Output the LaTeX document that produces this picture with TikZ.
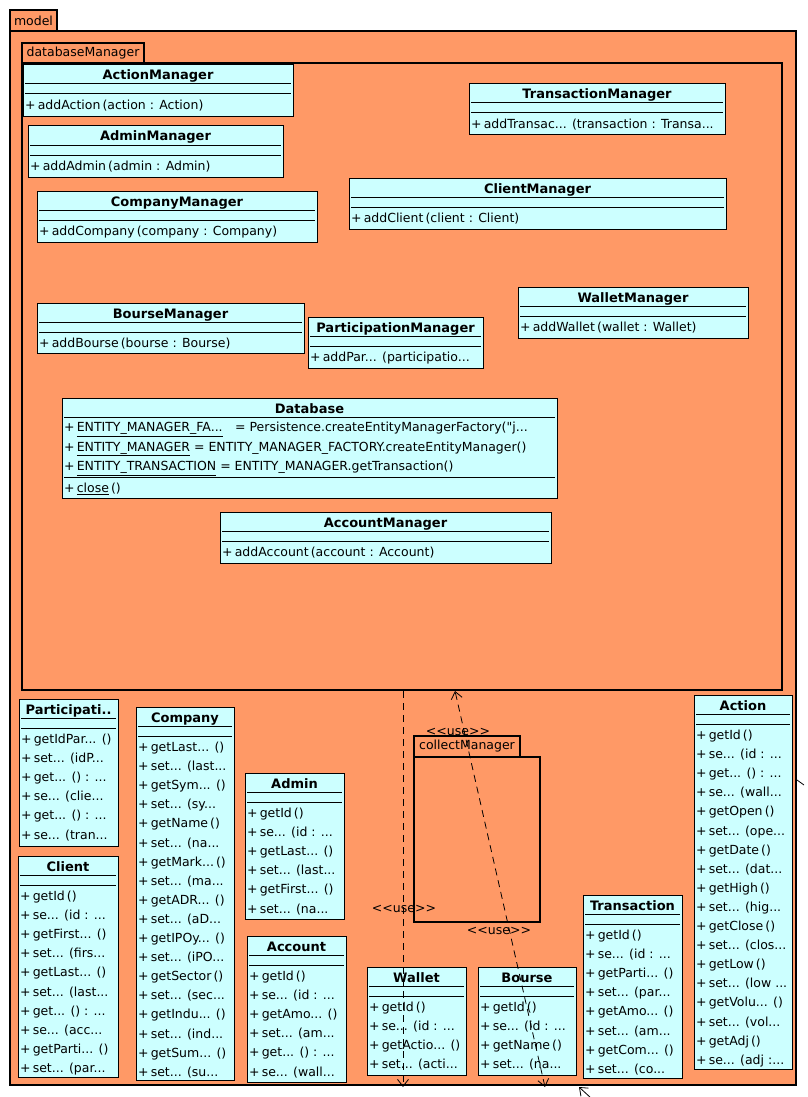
\documentclass[tikz,border=0pt]{standalone}
\usepackage{fontspec}
\newfontfamily\umlff{DejaVu Sans}
\usepackage{tikz}
\usetikzlibrary{arrows.meta}

\definecolor{pkgorange}{RGB}{255,153,102}
\definecolor{clscyan}{RGB}{204,255,255}

\newcommand{\umlsize}{\fontsize{12.5}{15}\selectfont}
\newcommand{\umltitlesize}{\fontsize{13}{15}\selectfont}
\newcommand{\dd}{...}

% class box: name, left x, top y, width, height, title, members
\newcommand{\umlclass}[7]{%
  \node[cls, minimum width=#4, minimum height=#5] (#1) at (#2+#4/2, #3+#5/2) {};
  \node[clsname] (#1-title) at (#2+#4/2, #3+15) {#6};
  \draw[clsline] (#2+2, #3+19) -- (#2+#4-2, #3+19);
  \draw[clsline] (#2+2, #3+29) -- (#2+#4-2, #3+29);
  \foreach \m [count=\i] in {#7}
    \node[member] (#1-\i) at (#2+2, #3+29+15.5+19.1*\i-19.1) {+\,\m};
}

\begin{document}
\begin{tikzpicture}[
    x=1pt, y=-1pt,
    pkg/.style={rectangle, draw=black, line width=2pt, fill=pkgorange, inner sep=0pt},
    pkgtab/.style={pkg, font=\umlff\umlsize},
    cls/.style={rectangle, draw=black, line width=1pt, fill=clscyan, inner sep=0pt},
    clsname/.style={anchor=base, font=\umlff\umltitlesize\bfseries, inner sep=0pt},
    clsline/.style={line width=1pt},
    member/.style={anchor=base west, font=\umlff\umlsize, inner sep=0pt},
    stereo/.style={font=\umlff\umlsize, inner sep=0pt},
    dep/.style={dash pattern=on 7pt off 5pt, line width=0.8pt, -{Straight Barb[length=7pt, width=11pt]}},
    depboth/.style={dep, {Straight Barb[length=7pt, width=11pt]}-{Straight Barb[length=7pt, width=11pt]}}
]
\useasboundingbox (0,0) rectangle (807,1097);

% Packages
\node[pkg, minimum width=786, minimum height=1054] (model) at (403, 558) {};
\node[pkgtab, minimum width=47, minimum height=21] (model-tab) at (33.5, 20.5) {model};
\node[pkg, minimum width=760, minimum height=627] (dbm) at (402, 376.5) {};
\node[pkgtab, minimum width=122, minimum height=20] (dbm-tab) at (83, 53) {databaseManager};

% Managers
\umlclass{actionmgr}{23}{65}{270}{52}{ActionManager}{addAction\,(action : Action)}
\umlclass{adminmgr}{28}{126}{255}{51}{AdminManager}{addAdmin\,(admin : Admin)}
\umlclass{companymgr}{37}{191}{280}{51}{CompanyManager}{addCompany\,(company : Company)}
\umlclass{transactionmgr}{469}{84}{256}{51}{TransactionManager}{addTransac\dd{} (transaction : Transa\dd}
\umlclass{clientmgr}{349}{178}{377}{51}{ClientManager}{addClient\,(client : Client)}
\umlclass{boursemgr}{37}{303}{267}{50}{BourseManager}{addBourse\,(bourse : Bourse)}
\umlclass{participationmgr}{308}{317}{175}{51}{ParticipationManager}{addPar\dd{} (participatio\dd}
\umlclass{walletmgr}{518}{287}{230}{51}{WalletManager}{addWallet\,(wallet : Wallet)}
\umlclass{accountmgr}{220}{512}{331}{51}{AccountManager}{addAccount\,(account : Account)}

% Database
\node[cls, minimum width=495, minimum height=100] (db) at (309.5, 448) {};
\node[clsname] (db-title) at (309.5, 413) {Database};
\draw[clsline] (64, 417) -- (555, 417);
\node[member] (db-a1) at (64, 431.5) {+\,\underline{ENTITY\_MANAGER\_FA\dd}\quad= Persistence.createEntityManagerFactory("j\dd};
\node[member] (db-a2) at (64, 451) {+\,\underline{ENTITY\_MANAGER} = ENTITY\_MANAGER\_FACTORY.createEntityManager()};
\node[member] (db-a3) at (64, 470.5) {+\,\underline{ENTITY\_TRANSACTION} = ENTITY\_MANAGER.getTransaction()};
\draw[clsline] (64, 477) -- (555, 477);
\node[member] (db-m1) at (64, 492.5) {+\,\underline{close}\,()};

% collectManager
\node[stereo] (use3) at (458, 732) {<\kern0pt<use>\kern0pt>};
\node[pkg, minimum width=126, minimum height=165] (collect) at (477, 839.5) {};
\node[pkgtab, minimum width=106, minimum height=21] (collect-tab) at (467, 746.5) {collectManager};

% Entities
\umlclass{participation}{19}{699}{99}{147}{Participati..}{getIdPar\dd{} (),set\dd{} (idP\dd,get\dd{} () : \dd,se\dd{} (clie\dd,get\dd{} () : \dd,se\dd{} (tran\dd}
\umlclass{client}{18}{856}{100}{221}{Client}{getId\,(),se\dd{} (id : \dd,getFirst\dd{} (),set\dd{} (firs\dd,getLast\dd{} (),set\dd{} (last\dd,get\dd{} () : \dd,se\dd{} (acc\dd,getParti\dd{} (),set\dd{} (par\dd}
\umlclass{company}{136}{707}{98}{373}{Company}{getLast\dd{} (),set\dd{} (last\dd,getSym\dd{} (),set\dd{} (sy\dd,getName\,(),set\dd{} (na\dd,getMark\dd\,(),set\dd{} (ma\dd,getADR\dd{} (),set\dd{} (aD\dd,getIPOy\dd{} (),set\dd{} (iPO\dd,getSector\,(),set\dd{} (sec\dd,getIndu\dd{} (),set\dd{} (ind\dd,getSum\dd{} (),set\dd{} (su\dd}
\umlclass{admin}{245}{773}{99}{146}{Admin}{getId\,(),se\dd{} (id : \dd,getLast\dd{} (),set\dd{} (last\dd,getFirst\dd{} (),set\dd{} (na\dd}
\umlclass{account}{247}{936}{99}{146}{Account}{getId\,(),se\dd{} (id : \dd,getAmo\dd{} (),set\dd{} (am\dd,get\dd{} () : \dd,se\dd{} (wall\dd}
\umlclass{wallet}{367}{967}{99}{108}{Wallet}{getId\,(),se\dd{} (id : \dd,getActio\dd{} (),set\dd{} (acti\dd}
\umlclass{bourse}{478}{967}{98}{108}{Bourse}{getId\,(),se\dd{} (id : \dd,getName\,(),set\dd{} (na\dd}
\umlclass{transaction}{583}{895}{99}{183}{Transaction}{getId\,(),se\dd{} (id : \dd,getParti\dd{} (),set\dd{} (par\dd,getAmo\dd{} (),set\dd{} (am\dd,getCom\dd{} (),set\dd{} (co\dd}
\umlclass{action}{694}{695}{98}{374}{Action}{getId\,(),se\dd{} (id : \dd,get\dd{} () : \dd,se\dd{} (wall\dd,getOpen\,(),set\dd{} (ope\dd,getDate\,(),set\dd{} (dat\dd,getHigh\,(),set\dd{} (hig\dd,getClose\,(),set\dd{} (clos\dd,getLow\,(),set\dd{} (low \dd,getVolu\dd{} (),set\dd{} (vol\dd,getAdj\,(),se\dd{} (adj :\dd}

% Dependencies
\coordinate (use1end) at (403, 1087);
\coordinate (use2top) at (455, 691);
\coordinate (use2end) at (545, 1087);
\draw[dep] (dbm.south -| use1end) -- (use1end);
\draw[depboth] (use2end) -- (use2top);
\node[stereo] (use1) at (404, 909) {<\kern0pt<use>\kern0pt>};
\node[stereo] (use2) at (499, 931) {<\kern0pt<use>\kern0pt>};

% Cut-off connectors at the border
\coordinate (ext1) at (591, 1098);
\coordinate (ext1tip) at (579, 1087);
\draw[line width=0.8pt, -{Straight Barb[length=7pt, width=11pt]}] (ext1) -- (ext1tip);
\coordinate (ext2a) at (797, 780);
\coordinate (ext2b) at (804, 785);
\draw[line width=0.8pt] (ext2a) -- (ext2b);

\end{tikzpicture}
\end{document}
